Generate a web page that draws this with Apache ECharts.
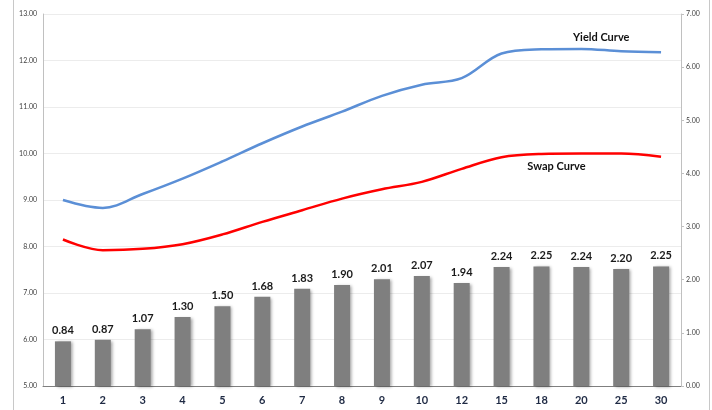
<!DOCTYPE html>
<html><head><meta charset="utf-8">
<script src="https://cdn.jsdelivr.net/npm/echarts@6/dist/echarts.min.js"></script>
<style>html,body{margin:0;padding:0;background:#fff}#c{width:712px;height:410px}</style>
</head><body><div id="c"></div>
<script>
const categories = ['1','2','3','4','5','6','7','8','9','10','12','15','18','20','25','30'];
const spreadValues = [0.84,0.87,1.07,1.30,1.50,1.68,1.83,1.90,2.01,2.07,1.94,2.24,2.25,2.24,2.20,2.25];
const yieldValues = [9.00,8.83,9.13,9.46,9.83,10.22,10.58,10.90,11.24,11.48,11.62,12.15,12.24,12.25,12.20,12.18];
const swapValues = [8.15,7.92,7.95,8.05,8.26,8.53,8.78,9.03,9.23,9.39,9.67,9.92,9.99,10.00,10.00,9.93];
const leftTicks = {min:5, max:13, interval:1};
const rightTicks = {min:0, max:7, interval:1};

const font = 'Lato, "Open Sans", sans-serif';
const chart = echarts.init(document.getElementById('c'));
const yieldData = yieldValues.map((v,i)=> i===14 ? {value:v, symbolSize:0.01, label:{show:true, formatter:'Yield Curve', position:'top', distance:4, offset:[-20,-4], fontFamily:font, fontWeight:'bold', fontSize:11, color:'#111'}} : v);
const swapData = swapValues.map((v,i)=> i===12 ? {value:v, symbolSize:0.01, label:{show:true, formatter:'Swap Curve', position:'bottom', distance:4, offset:[15,3], fontFamily:font, fontWeight:'bold', fontSize:11, color:'#111'}} : v);
chart.setOption({
  animation:false,
  backgroundColor:'#fff',
  grid:{left:43, right:31, top:14, bottom:24, containLabel:false},
  graphic:[
    {type:'line', shape:{x1:13.5,y1:0,x2:13.5,y2:410}, style:{stroke:'#c8c8c8', lineWidth:1}},
    {type:'line', shape:{x1:709.5,y1:0,x2:709.5,y2:410}, style:{stroke:'#c8c8c8', lineWidth:1}}
  ],
  xAxis:{type:'category', data:categories, boundaryGap:true,
    axisLine:{lineStyle:{color:'#7f7f7f', width:1}}, axisTick:{show:false},
    axisLabel:{fontFamily:font, fontWeight:'bold', fontSize:11, color:'#1f2a44', margin:9}},
  yAxis:[
    {type:'value', min:leftTicks.min, max:leftTicks.max, interval:leftTicks.interval,
     axisLine:{show:true, lineStyle:{color:'#c0c0c0'}}, axisTick:{show:false},
     axisLabel:{formatter:v=>v.toFixed(2), fontFamily:font, fontSize:7, color:'#404040', margin:6},
     splitLine:{lineStyle:{color:'#ececec'}}},
    {type:'value', min:rightTicks.min, max:rightTicks.max, interval:rightTicks.interval, position:'right',
     axisLine:{show:true, lineStyle:{color:'#c0c0c0'}}, axisTick:{show:true, length:3, lineStyle:{color:'#c0c0c0'}},
     axisLabel:{formatter:v=>v.toFixed(2), fontFamily:font, fontSize:7, color:'#404040', margin:5},
     splitLine:{show:false}}
  ],
  series:[
    {type:'bar', yAxisIndex:1, data:spreadValues, barWidth:16,
     itemStyle:{color:'#7f7f7f', shadowColor:'rgba(0,0,0,0.35)', shadowBlur:3, shadowOffsetX:2, shadowOffsetY:1},
     label:{show:true, position:'top', distance:5, formatter:p=>p.value.toFixed(2), fontFamily:font, fontWeight:'bold', fontSize:11, color:'#1a1a1a'}},
    {type:'line', yAxisIndex:0, data:yieldData, smooth:0.35, symbol:'circle', symbolSize:0, showSymbol:true,
     itemStyle:{color:'#5b8fd6'}, lineStyle:{color:'#5b8fd6', width:2.5}},
    {type:'line', yAxisIndex:0, data:swapData, smooth:0.35, symbol:'circle', symbolSize:0, showSymbol:true,
     itemStyle:{color:'#ff0000'}, lineStyle:{color:'#ff0000', width:2.5}}
  ]
});
</script></body></html>
